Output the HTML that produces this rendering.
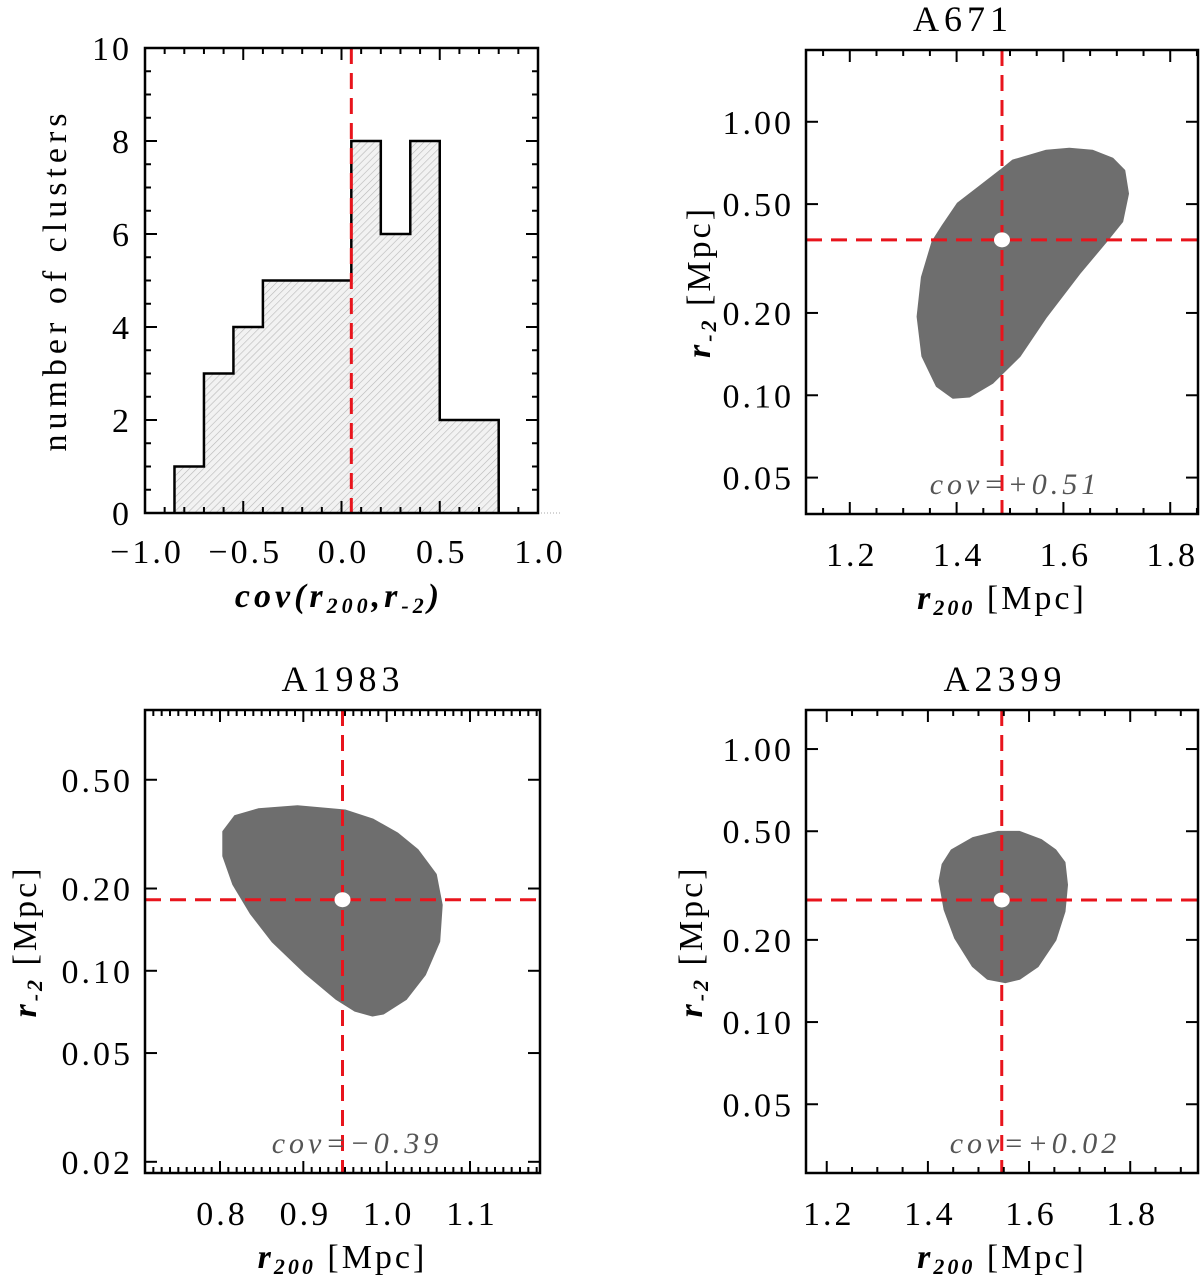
<!DOCTYPE html>
<html><head><meta charset="utf-8"><style>
html,body{margin:0;padding:0;background:#fff;}
svg{display:block;font-family:"Liberation Serif",serif;}
</style></head><body>
<svg id="fig" width="1200" height="1280" viewBox="0 0 1200 1280" xmlns="http://www.w3.org/2000/svg">
<defs>
<pattern id="hatch" patternUnits="userSpaceOnUse" width="5" height="5" patternTransform="rotate(-45)">
<rect width="5" height="5" fill="#f2f2f2"/>
<line x1="0" y1="0" x2="5" y2="0" stroke="#b8b8b8" stroke-width="1.2"/>
</pattern>
</defs>
</svg>
<script>
// ---------- DATA ----------
const histEdges = [-0.85,-0.70,-0.55,-0.40,-0.25,-0.10,0.05,0.20,0.35,0.50,0.65,0.80];
const histCounts = [1,3,4,5,5,5,8,6,8,2,2];
const histMarker = 0.05;
const histXTicks = [-1.0,-0.5,0.0,0.5,1.0];
const histYTicks = [0,2,4,6,8,10];

const a671X = [1.482,1.505,1.568,1.611,1.654,1.692,1.714,1.721,1.710,1.680,1.630,1.568,1.518,1.467,1.424,1.393,1.363,1.336,1.327,1.335,1.355,1.374,1.402,1.443];
const a671Y = [0.663,0.721,0.784,0.797,0.784,0.733,0.663,0.546,0.432,0.365,0.279,0.194,0.139,0.111,0.099,0.098,0.108,0.139,0.194,0.270,0.365,0.417,0.502,0.579];
const a671Best = [1.485,0.37];
const a1983X = [0.818,0.846,0.893,0.950,0.983,1.013,1.037,1.059,1.066,1.063,1.046,1.023,0.996,0.983,0.962,0.940,0.902,0.863,0.837,0.816,0.804,0.804];
const a1983Y = [0.368,0.390,0.400,0.386,0.358,0.318,0.277,0.225,0.174,0.128,0.0969,0.0787,0.0698,0.0686,0.0715,0.0787,0.0984,0.128,0.162,0.207,0.263,0.323];
const a1983Best = [0.947,0.182];
const a2399X = [1.447,1.489,1.539,1.581,1.624,1.652,1.670,1.675,1.670,1.652,1.617,1.581,1.553,1.518,1.489,1.454,1.433,1.423,1.429];
const a2399Y = [0.426,0.472,0.497,0.497,0.464,0.426,0.384,0.318,0.254,0.200,0.160,0.144,0.140,0.144,0.160,0.203,0.258,0.329,0.378];
const a2399Best = [1.546,0.28];
const yTicks1 = [1.00,0.50,0.20,0.10,0.05];
const yTicks1983 = [0.50,0.20,0.10,0.05,0.02];
const xTicksBig = [1.2,1.4,1.6,1.8];
const xTicks1983 = [0.8,0.9,1.0,1.1];

// ---------- HELPERS ----------
const NS="http://www.w3.org/2000/svg";
const svg=document.getElementById('fig');
function mk(tag,attrs,parent){const e=document.createElementNS(NS,tag);for(const k in attrs)e.setAttribute(k,attrs[k]);(parent||svg).appendChild(e);return e;}
function linScale(d0,d1,r0,r1){return v=>r0+(v-d0)/(d1-d0)*(r1-r0);}
function logScale(d0,d1,r0,r1){return v=>r0+(Math.log10(v)-Math.log10(d0))/(Math.log10(d1)-Math.log10(d0))*(r1-r0);}
function txt(s,x,y,size,anchor,parent,extra){const t=mk('text',Object.assign({x:x,y:y,'font-size':size,'text-anchor':anchor||'middle',fill:'#000'},extra||{}),parent);t.textContent=s;return t;}
const TL={'letter-spacing':'3'};

function frame(g,L,T,R,B){
  const f=mk('rect',{x:L,y:T,width:R-L,height:B-T,fill:'none',stroke:'#000','stroke-width':2.5},g);
  
  
}
function tick(g,x1,y1,x2,y2){mk('line',{x1:x1,y1:y1,x2:x2,y2:y2,stroke:'#000','stroke-width':2},g);}

function redLines(g,L,T,R,B,px,py){
  const v=mk('line',{x1:px,y1:T,x2:px,y2:B,stroke:'#e8141c','stroke-width':3,'stroke-dasharray':'16 9'},g);
  
  
  if(py!==null){
    const h=mk('line',{x1:L,y1:py,x2:R,y2:py,stroke:'#e8141c','stroke-width':3,'stroke-dasharray':'16 9'},g);
    
    
  }
}

function rLabelX(g,cx,y){
  const t=mk('text',{x:cx,y:y,'font-size':34,'text-anchor':'middle','letter-spacing':'3'},g);
  
  
  t.innerHTML='<tspan font-style="italic" font-weight="bold">r</tspan><tspan font-style="italic" font-weight="bold" font-size="22" dy="6">200</tspan><tspan dy="-6"> [Mpc]</tspan>';
}
function rLabelY(g,x,cy){
  const t=mk('text',{x:0,y:0,'font-size':34,'text-anchor':'middle','letter-spacing':'3',transform:`translate(${x},${cy}) rotate(-90)`},g);
  
  
  t.innerHTML='<tspan font-style="italic" font-weight="bold">r</tspan><tspan font-style="italic" font-weight="bold" font-size="22" dy="6">-2</tspan><tspan dy="-6"> [Mpc]</tspan>';
}

// ---------- HISTOGRAM ----------
(function(){
  const g=mk('g',{});
  
  
  const L=145,R=538,T=48,B=513;
  const X=linScale(-1,1,L,R), Y=linScale(0,10,B,T);
  mk('line',{x1:R,y1:B,x2:560,y2:B,stroke:'#aaa','stroke-width':1,'stroke-dasharray':'1 2'},g);
  let d=`M${X(histEdges[0])},${Y(0)}`;
  for(let i=0;i<histCounts.length;i++){d+=` L${X(histEdges[i])},${Y(histCounts[i])} L${X(histEdges[i+1])},${Y(histCounts[i])}`;}
  d+=` L${X(histEdges[histEdges.length-1])},${Y(0)}`;
  const h=mk('path',{d:d+' Z',fill:'url(#hatch)',stroke:'none'},g);
  
  
  const o=mk('path',{d:d,fill:'none',stroke:'#000','stroke-width':2.5},g);
  
  
  redLines(g,L,T,R,B,X(histMarker),null);
  frame(g,L,T,R,B);
  for(let v=-1;v<=1.0001;v+=0.1){const x=X(v);const maj=Math.abs(v*2-Math.round(v*2))<1e-6;const l=maj?12:6;tick(g,x,B,x,B-l);tick(g,x,T,x,T+l);}
  for(let v=0;v<=10;v+=0.5){const y=Y(v);const maj=Math.abs(v/2-Math.round(v/2))<1e-6;const l=maj?12:6;tick(g,L,y,L+l,y);tick(g,R,y,R-l,y);}
  histXTicks.forEach(v=>{const t=txt(v.toFixed(1).replace('-','\u2212'),X(v)+2,563,34,'middle',g,TL);});
  histYTicks.forEach(v=>{const t=txt(String(v),132,Y(v)+12,34,'end',g,TL);});
  const xt=mk('text',{x:339,y:607,'font-size':34,'text-anchor':'middle','font-style':'italic','font-weight':'bold','letter-spacing':'4'},g);
  
  
  xt.innerHTML='cov(r<tspan font-size="22" dy="6">200</tspan><tspan dy="-6">,r</tspan><tspan font-size="22" dy="6">-2</tspan><tspan dy="-6">)</tspan>';
  const yt=mk('text',{x:0,y:0,'font-size':34,'text-anchor':'middle','letter-spacing':'5',transform:'translate(66,280) rotate(-90)'},g);
  yt.textContent='number of clusters';
  
  
})();

// ---------- CONTOUR PANELS ----------
function contourPanel(cfg){
  const g=mk('g',{});
  
  
  const {L,R,T,B}=cfg;
  const X=linScale(cfg.x0,cfg.x1,L,R), Y=logScale(cfg.y0,cfg.y1,B,T);
  let d='';
  cfg.cx.forEach((v,i)=>{d+=(i?' L':'M')+X(v).toFixed(1)+','+Y(cfg.cy[i]).toFixed(1);});
  const p=mk('path',{d:d+' Z',fill:'#6e6e6e',stroke:'#6e6e6e','stroke-width':2,'stroke-linejoin':'round'},g);
  
  
  redLines(g,L,T,R,B,X(cfg.best[0]),Y(cfg.best[1]));
  const c=mk('ellipse',{cx:X(cfg.best[0]),cy:Y(cfg.best[1]),rx:8,ry:7.5,fill:'#fff'},g);
  
  
  frame(g,L,T,R,B);
  const start=Math.ceil(cfg.x0/cfg.minor-1e-9)*cfg.minor;
  for(let v=start;v<=cfg.x1+1e-9;v+=cfg.minor){
    const x=X(v);const r=v/cfg.major;const maj=Math.abs(r-Math.round(r))<1e-6;const l=maj?12:6;
    tick(g,x,B,x,B-l);tick(g,x,T,x,T+l);
  }
  cfg.yt.forEach(v=>{const y=Y(v);tick(g,L,y,L+12,y);tick(g,R,y,R-12,y);
    const t=txt(v.toFixed(2),L-12,y+12,34,'end',g,TL);});
  cfg.xt.forEach(v=>{const t=txt(v.toFixed(1),X(v)+2,B+52,34,'middle',g,TL);});
  const ti=txt(cfg.title,cfg.titleX,cfg.titleY,36,'middle',g,{'letter-spacing':'5'});
  
  
  const cv=txt(cfg.cov,cfg.covX,B-20,30,'middle',g,{'font-style':'italic',fill:'#555','letter-spacing':'4'});
  
  
  rLabelX(g,(L+R)/2,B+95);
  rLabelY(g,cfg.ylabX,(T+B)/2);
}

contourPanel({name:'a671-panel',L:806,R:1198,T:50,B:514,x0:1.118,x1:1.852,y0:0.0368,y1:1.83,
  cx:a671X,cy:a671Y,best:a671Best,minor:0.05,major:0.2,yt:yTicks1,xt:xTicksBig,
  title:'A671',titleX:963,titleY:31,cov:'cov=+0.51',covX:1015,ylabX:710});
contourPanel({name:'a1983-panel',L:145,R:540,T:710,B:1173,x0:0.710,x1:1.184,y0:0.0182,y1:0.90,
  cx:a1983X,cy:a1983Y,best:a1983Best,minor:0.01,major:0.1,yt:yTicks1983,xt:xTicks1983,
  title:'A1983',titleX:343,titleY:691,cov:'cov=\u22120.39',covX:357,ylabX:36});
contourPanel({name:'a2399-panel',L:806,R:1198,T:710,B:1173,x0:1.159,x1:1.934,y0:0.028,y1:1.39,
  cx:a2399X,cy:a2399Y,best:a2399Best,minor:0.05,major:0.2,yt:yTicks1,xt:xTicksBig,
  title:'A2399',titleX:1005,titleY:691,cov:'cov=+0.02',covX:1035,ylabX:702});
</script>
</body></html>
